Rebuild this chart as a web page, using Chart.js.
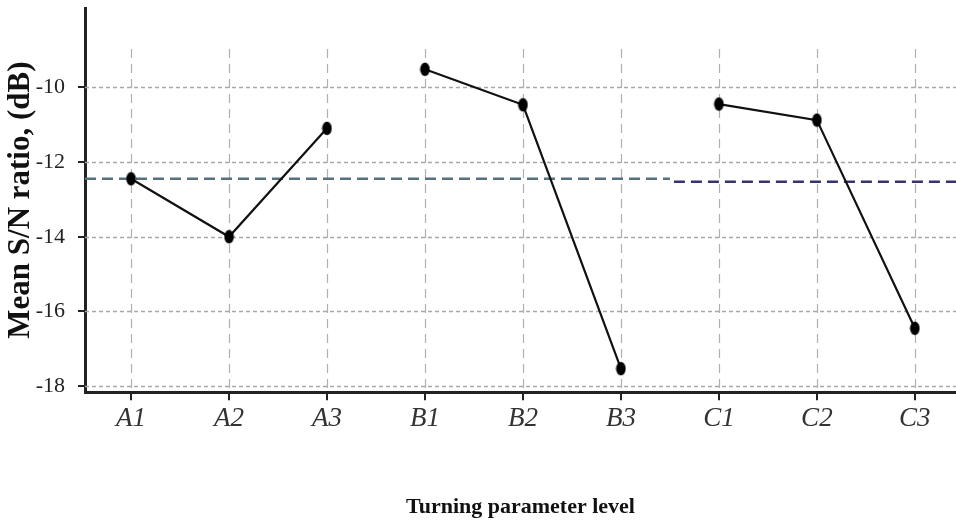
<!DOCTYPE html>
<html>
<head>
<meta charset="utf-8">
<script src="https://cdn.jsdelivr.net/npm/chart.js@4/dist/chart.umd.min.js"></script>
<style>
  html, body { margin: 0; padding: 0; background: #ffffff; }
  #wrap { position: relative; width: 956px; height: 527px; }
</style>
</head>
<body>
<div id="wrap"><canvas id="c"></canvas></div>
<script>
// ---- data ----
const categories = ['A1', 'A2', 'A3', 'B1', 'B2', 'B3', 'C1', 'C2', 'C3'];
const factorGroups = [[0, 1, 2], [3, 4, 5], [6, 7, 8]];
const snValues = [-12.45, -14.0, -11.1, -9.52, -10.47, -17.53, -10.45, -10.88, -16.45];
const meanLeft = -12.45;
const meanRight = -12.53;
const yTicks = [-18, -16, -14, -12, -10];

const SERIF = "'Liberation Serif', 'DejaVu Serif', serif";

// ellipse marker
const marker = document.createElement('canvas');
marker.width = 11; marker.height = 15;
(function () {
  const m = marker.getContext('2d');
  m.fillStyle = '#000';
  m.beginPath();
  m.ellipse(5.5, 7.5, 4.8, 6.8, 0, 0, Math.PI * 2);
  m.fill();
})();

const datasets = factorGroups.map(g => ({
  data: g.map(i => ({ x: i, y: snValues[i] })),
  borderColor: '#111',
  borderWidth: 2.2,
  pointStyle: marker,
  pointRadius: 6,
  pointHoverRadius: 6,
  tension: 0,
  fill: false,
  clip: false
}));

const gridPlugin = {
  id: 'gridPlugin',
  beforeDatasetsDraw(chart) {
    const { ctx, chartArea: a, scales: { x, y } } = chart;
    ctx.save();
    // horizontal dotted grid
    ctx.strokeStyle = '#a8a8a8';
    ctx.lineWidth = 1.3;
    ctx.setLineDash([4, 3]);
    yTicks.forEach(v => {
      const py = Math.round(y.getPixelForValue(v)) + 0.5;
      ctx.beginPath(); ctx.moveTo(a.left, py); ctx.lineTo(a.right, py); ctx.stroke();
    });
    // vertical dashed grid
    ctx.strokeStyle = '#b0b0b0';
    ctx.lineWidth = 1.2;
    ctx.setLineDash([9, 6]);
    const top = y.getPixelForValue(-8.98);
    categories.forEach((c, i) => {
      const px = Math.round(x.getPixelForValue(i)) + 0.5;
      ctx.beginPath(); ctx.moveTo(px, top); ctx.lineTo(px, a.bottom); ctx.stroke();
    });
    // mean line
    ctx.lineWidth = 2.6;
    ctx.setLineDash([11, 6]);
    const mid = x.getPixelForValue(5.5);
    ctx.strokeStyle = '#56707e';
    let py = y.getPixelForValue(meanLeft);
    ctx.beginPath(); ctx.moveTo(a.left, py); ctx.lineTo(mid, py); ctx.stroke();
    ctx.strokeStyle = '#35356e';
    py = y.getPixelForValue(meanRight);
    ctx.beginPath(); ctx.moveTo(mid + 4, py); ctx.lineTo(a.right, py); ctx.stroke();
    ctx.restore();
  }
};

new Chart(document.getElementById('c'), {
  type: 'line',
  data: { datasets },
  plugins: [gridPlugin],
  options: {
    responsive: true,
    maintainAspectRatio: false,
    animation: false,
    layout: { autoPadding: false, padding: { left: 0, top: 8, right: 0, bottom: 4 } },
    plugins: { legend: { display: false }, tooltip: { enabled: false } },
    scales: {
      x: {
        type: 'linear',
        min: -0.47,
        max: 8.42,
        afterBuildTicks: axis => { axis.ticks = categories.map((c, i) => ({ value: i })); },
        afterFit: s => { s.paddingLeft = 0; s.paddingRight = 0; },
        ticks: {
          callback: v => categories[v],
          font: { family: SERIF, size: 27, style: 'italic' },
          color: '#333',
          padding: 3,
          maxRotation: 0,
          autoSkip: false
        },
        grid: { drawOnChartArea: false, drawTicks: true, tickLength: 8, color: '#222', lineWidth: 2 },
        border: { display: true, color: '#222', width: 3 },
        title: {
          display: true,
          text: 'Turning parameter level',
          font: { family: SERIF, size: 22, weight: 'bold' },
          color: '#111',
          padding: { top: 56, bottom: 2 }
        }
      },
      y: {
        type: 'linear',
        min: -18.16,
        max: -7.88,
        afterBuildTicks: axis => { axis.ticks = yTicks.map(v => ({ value: v })); },
        afterFit: s => { s.paddingTop = 0; s.paddingBottom = 0; s.width = 85; },
        ticks: {
          font: { family: SERIF, size: 22 },
          color: '#222',
          padding: 13
        },
        grid: { drawOnChartArea: false, drawTicks: true, tickLength: 7, color: '#222', lineWidth: 2 },
        border: { display: true, color: '#222', width: 3 },
        title: {
          display: true,
          text: 'Mean S/N ratio, (dB)',
          font: { family: SERIF, size: 31, weight: 'bold' },
          color: '#111',
          padding: { top: 2, bottom: 0 }
        }
      }
    }
  }
});
</script>
</body>
</html>
